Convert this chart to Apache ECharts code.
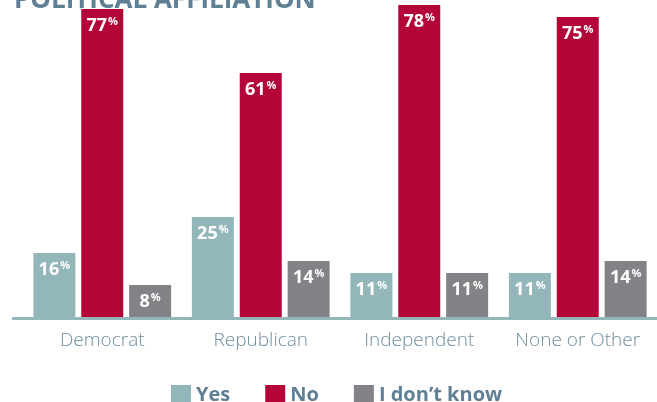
<!DOCTYPE html>
<html>
<head>
<meta charset="utf-8">
<script src="https://cdn.jsdelivr.net/npm/echarts@6/dist/echarts.min.js"></script>
<style>
  html, body { margin: 0; padding: 0; background: #fff; }
  #chart { width: 657px; height: 402px; }
</style>
</head>
<body>
<div id="chart"></div>
<script>
// Survey answers by political affiliation (percent)
const categories = ['Democrat', 'Republican', 'Independent', 'None or Other'];
const seriesNames = ['Yes', 'No', 'I don\u2019t know'];
const yesValues = [16, 25, 11, 11];
const noValues = [77, 61, 78, 75];
const dontKnowValues = [8, 14, 11, 14];

const colors = ['#93b6bb', '#b30537', '#838387'];
const textBlue = '#5f7f94';
const fontFamily = '"Open Sans", "Noto Sans", sans-serif';

const valueLabel = {
  show: true,
  position: 'insideTop',
  distance: 7,
  formatter: p => '{v|' + p.value + '}{p|%}',
  rich: {
    v: { color: '#fff', fontSize: 18, fontWeight: 'bold', fontFamily, lineHeight: 20 },
    p: { color: '#fff', fontSize: 11, fontWeight: 'bold', fontFamily, verticalAlign: 'top', lineHeight: 11, padding: [0, 0, 8, 1] }
  }
};

function bar(name, data, color) {
  return {
    name,
    type: 'bar',
    data,
    barWidth: 42,
    barGap: '14%',
    itemStyle: { color },
    label: valueLabel
  };
}

const chart = echarts.init(document.getElementById('chart'), null, { renderer: 'canvas' });
chart.setOption({
  animation: false,
  title: {
    text: 'POLITICAL AFFILIATION',
    left: 9,
    top: -17,
    textStyle: { color: textBlue, fontSize: 26, fontWeight: 'bold', fontFamily }
  },
  legend: {
    data: seriesNames,
    left: 166,
    top: 380,
    itemWidth: 20,
    itemHeight: 20,
    itemGap: 35,
    icon: 'rect',
    textStyle: { color: textBlue, fontSize: 20, fontWeight: 'bold', fontFamily }
  },
  grid: { left: 23, right: 0, top: 1, bottom: 85, containLabel: false },
  xAxis: {
    type: 'category',
    data: categories,
    axisLine: { show: false },
    axisTick: { show: false },
    axisLabel: { interval: 0, color: '#6f8ea0', fontSize: 19, fontWeight: 300, fontFamily, margin: 14 }
  },
  yAxis: {
    type: 'value',
    min: 0,
    max: 79,
    show: false,
    splitLine: { show: false }
  },
  graphic: [{
    type: 'rect',
    shape: { x: 12, y: 317, width: 645, height: 3 },
    style: { fill: colors[0] },
    z: 10
  }],
  series: [
    bar(seriesNames[0], yesValues, colors[0]),
    bar(seriesNames[1], noValues, colors[1]),
    bar(seriesNames[2], dontKnowValues, colors[2])
  ]
});
</script>
</body>
</html>
